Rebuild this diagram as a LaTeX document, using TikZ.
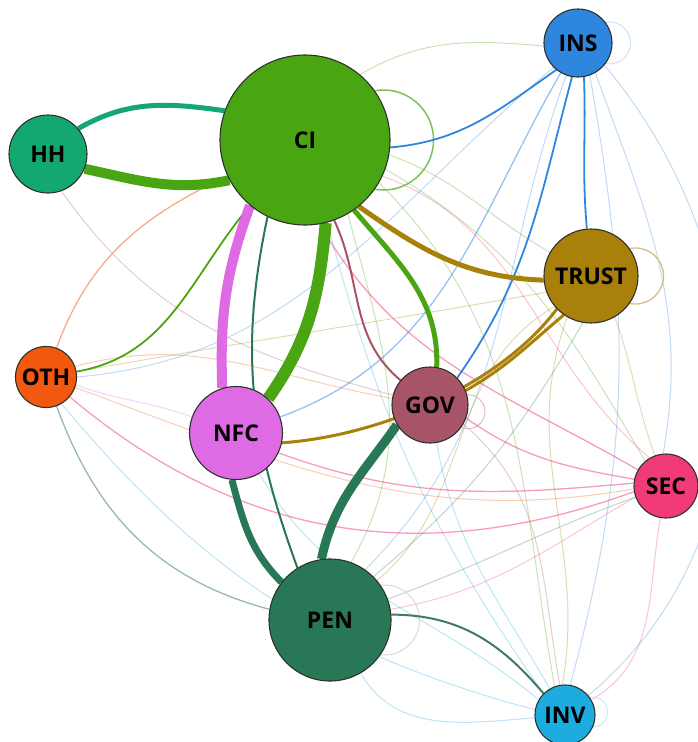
\documentclass[tikz,border=0pt]{standalone}
\usepackage{fontspec}
\setmainfont{Open Sans}
\usetikzlibrary{backgrounds}
\definecolor{cCI}{RGB}{74,165,18}
\definecolor{cHH}{RGB}{18,168,112}
\definecolor{cINS}{RGB}{46,134,222}
\definecolor{cTRUST}{RGB}{168,128,10}
\definecolor{cOTH}{RGB}{242,88,16}
\definecolor{cNFC}{RGB}{222,106,228}
\definecolor{cGOV}{RGB}{168,84,104}
\definecolor{cSEC}{RGB}{240,58,122}
\definecolor{cPEN}{RGB}{40,120,88}
\definecolor{cINV}{RGB}{28,172,224}
\definecolor{cBorder}{RGB}{45,50,45}
\begin{document}
\begin{tikzpicture}[x=1pt,y=1pt,
  nd/.style={circle,draw=cBorder,line width=1.1pt,inner sep=0pt,text=black,
    font=\fontsize{23}{23}\selectfont\bfseries},
  lk/.style={line width=#1},
  faint/.style={line width=1pt,draw opacity=0.3},
  mid/.style={line width=1.3pt,draw opacity=0.5},
]
\useasboundingbox (0,0) rectangle (697,-742);
\node[nd,fill=cCI,minimum size=170pt] (CI) at (305,-140) {CI};
\node[nd,fill=cHH,minimum size=78pt] (HH) at (48,-154) {HH};
\node[nd,fill=cINS,minimum size=68pt] (INS) at (578,-43) {INS};
\node[nd,fill=cTRUST,minimum size=94pt] (TRUST) at (591,-276) {TRUST};
\node[nd,fill=cOTH,minimum size=61pt] (OTH) at (46,-377) {OTH};
\node[nd,fill=cNFC,minimum size=93pt] (NFC) at (236,-433) {NFC};
\node[nd,fill=cGOV,minimum size=76pt] (GOV) at (430,-405) {GOV};
\node[nd,fill=cSEC,minimum size=64pt] (SEC) at (666,-486) {SEC};
\node[nd,fill=cPEN,minimum size=122pt] (PEN) at (330,-620) {PEN};
\node[nd,fill=cINV,minimum size=60pt] (INV) at (565,-715) {INV};

\begin{scope}[on background layer]
% faint edges
\draw[faint,cCI] (CI.50) to[out=30,in=175] (INS.185);
\draw[faint,cCI] (CI.-10) to[out=-20,in=150] (TRUST.150);
\draw[faint,cCI] (CI.-20) to[out=-30,in=120] (SEC.130);
\draw[faint,cCI] (CI.-30) to[out=-45,in=100] (INV.110);
\draw[faint,cCI] (CI.-60) to[out=-75,in=60] (PEN.70);
\draw[faint,cINS] (INS.-110) to[out=-110,in=45] (PEN.55);
\draw[faint,cINS] (INS.-60) to[out=-70,in=80] (SEC.95);
\draw[faint,cINS] (INS.-40) to[out=-50,in=40] (INV.40);
\draw[faint,cINS] (INS.-70) to[out=-80,in=75] (INV.80);
\draw[faint,cINS] (INS.-135) to[out=-140,in=5] (OTH.0);
\draw[faint,cTRUST] (TRUST.-120) to[out=-110,in=80] (INV.95);
\draw[faint,cTRUST] (TRUST.-60) to[out=-70,in=110] (SEC.110);
\draw[faint,cTRUST] (TRUST.-140) to[out=-150,in=40] (PEN.40);
\draw[faint,cTRUST] (TRUST.200) to[out=190,in=10] (OTH.10);
\draw[faint,cSEC] (SEC.200) to[out=210,in=10] (PEN.10);
\draw[faint,cSEC] (SEC.-100) to[out=-100,in=30] (INV.30);
\draw[faint,cSEC] (SEC.120) to[out=140,in=-20] (CI.-25);
\draw[faint,cINV] (INV.170) to[out=165,in=-50] (OTH.-60);
\draw[faint,cINV] (INV.150) to[out=140,in=-60] (NFC.-60);
\draw[faint,cINV] (INV.120) to[out=120,in=-80] (GOV.-80);
\draw[faint,cINV] (INV.135) to[out=125,in=-75] (CI.-75);
\draw[faint,cINV] (INV.185) to[out=185,in=-60] (PEN.-60);
\draw[faint,cOTH] (OTH.20) to[out=15,in=170] (GOV.170);
\draw[faint,cOTH] (OTH.-20) to[out=-20,in=190] (SEC.185);
\draw[faint,cNFC] (NFC.160) to[out=160,in=-20] (OTH.-15);
\draw[faint,cGOV] (GOV.-30) to[out=-40,in=100] (INV.100);
\draw[faint,cPEN] (PEN.45) to[out=40,in=-120] (TRUST.-100);
\draw[faint,cPEN] (PEN.20) to[out=20,in=200] (SEC.200);
\draw[faint,cGOV] (HH.-70) to[out=-55,in=165] (GOV.165);
% self loops
\draw[line width=1.5pt,cCI!70] ([xshift=-7pt]CI.east) circle (50);
\draw[line width=1.3pt,cTRUST!50] ([xshift=-3pt]TRUST.east) circle (28);
\draw[line width=1pt,cINS!25] ([xshift=-3pt]INS.east) circle (21);
\draw[line width=1pt,cGOV!40] (GOV.-10) circle (17);
\draw[line width=1pt,black!15] ([xshift=-7pt]PEN.east) circle (35);
\draw[line width=1pt,cINV!25] ([xshift=-3pt,yshift=3pt]INV.east) circle (15);
% medium edges
\draw[mid,cINS] (INS.-120) to[out=-120,in=20] (NFC.20);
\draw[mid,cSEC] (SEC.175) to[out=185,in=-20] (NFC.-25);
\draw[mid,cSEC] (SEC.190) to[out=200,in=-40] (OTH.-40);
\draw[mid,cSEC] (GOV.-20) to[out=-35,in=170] (SEC.168);
\draw[mid,cSEC] (CI.-80) to[out=-60,in=150] (SEC.150);
\draw[mid,cOTH] (OTH.70) to[out=70,in=205] (CI.205);
\draw[mid,cPEN] (OTH.-70) to[out=-70,in=165] (PEN.170);
\draw[lk=2pt,cPEN!70!gray] (PEN.5) to[out=0,in=130] (INV.135);
% strong edges
\draw[lk=1.8pt,cINS] (INS.231) to[out=215,in=5] (CI.-5);
\draw[lk=1.8pt,cINS] (INS.-100) to[out=-105,in=55] (GOV.45);
\draw[lk=1.8pt,cINS] (INS.-80) to[out=-88,in=95] (TRUST.95);
\draw[lk=1.8pt,cCI] (OTH.10) to[out=10,in=230] (CI.230);
\draw[lk=2pt,cGOV] (CI.-70) to[out=-65,in=140] (GOV.140);
\draw[lk=2pt,cPEN] (CI.244) to[out=258,in=110] (PEN.122);
\draw[lk=5pt,cHH] (HH.40) to[out=30,in=172] (CI.160);
\draw[lk=10pt,cCI] (HH.-22) to[out=-12,in=192] (CI.208);
\draw[lk=10pt,cNFC] (CI.230) to[out=250,in=92] (NFC.107);
\draw[lk=12pt,cCI] (CI.284) to[out=265,in=55] (NFC.47);
\draw[lk=7pt,cPEN] (NFC.265) to[out=285,in=135] (PEN.142);
\draw[lk=5pt,cCI] (CI.-55) to[out=-50,in=88] (GOV.80);
\draw[lk=5pt,cTRUST] (CI.-51) to[out=-35,in=178] (TRUST.185);
\draw[lk=3pt,cTRUST] (TRUST.235) to[out=220,in=30] (GOV.22);
\draw[lk=3pt,cTRUST] (NFC.-12) .. controls (380,-436) and (500,-385) .. (TRUST.224);
\draw[lk=9pt,cPEN] (GOV.211) to[out=235,in=78] (PEN.98);
\end{scope}
\end{tikzpicture}
\end{document}
